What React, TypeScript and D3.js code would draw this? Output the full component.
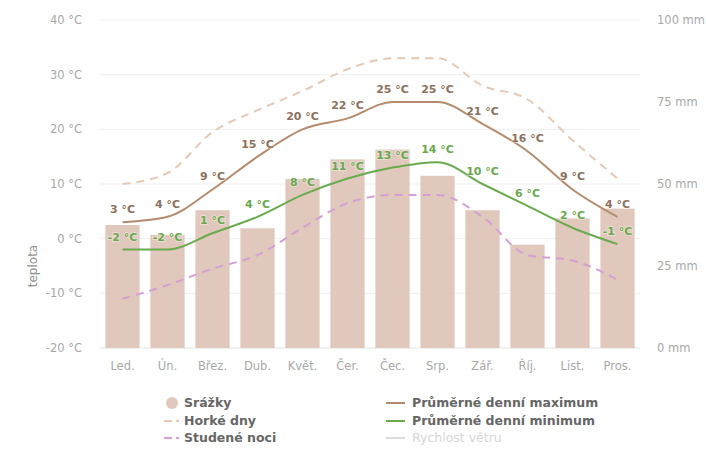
import { scaleBand, scaleLinear, line, curveMonotoneX } from "d3";

const months = ["Led.", "Ún.", "Břez.", "Dub.", "Květ.", "Čer.", "Čec.", "Srp.", "Zář.", "Říj.", "List.", "Pros."];
const precipitation = [37.5, 34.5, 42, 36.5, 51.5, 57.5, 60.5, 52.5, 42, 31.5, 39.5, 42.5];
const avgMax = [3, 4, 9, 15, 20, 22, 25, 25, 21, 16, 9, 4];
const avgMin = [-2, -2, 1, 4, 8, 11, 13, 14, 10, 6, 2, -1];
const hotDays = [10, 12, 19.5, 23.5, 27, 31, 33, 33, 28, 25.5, 18, 11];
const coldNights = [-11, -8.5, -5.5, -3, 2, 6.5, 8, 8, 4, -3, -4, -7.5];
const tempTicks = [-20, -10, 0, 10, 20, 30, 40];
const rainTicks = [0, 25, 50, 75, 100];

const W = 706;
const H = 450;
const left = 100;
const right = 640;
const top = 20;
const bottom = 348;
const font = "'DejaVu Sans', sans-serif";

export default function App() {
  const x = scaleBand<string>().domain(months).range([left, right]).paddingInner(0.24).paddingOuter(0.12);
  const cx = (i: number) => x(months[i])! + x.bandwidth() / 2;
  const yT = scaleLinear().domain([-20, 40]).range([bottom, top]);
  const yR = scaleLinear().domain([0, 100]).range([bottom, top]);

  const mk = (vals: number[]) =>
    line<number>()
      .x((_, i) => cx(i))
      .y((d) => yT(d))
      .curve(curveMonotoneX)(vals) || "";

  const labelStyle = (fill: string) => ({
    fontFamily: font,
    fontSize: 11,
    fontWeight: 700,
    fill,
    stroke: "rgba(255,255,255,0.4)",
    strokeWidth: 2,
    paintOrder: "stroke" as const,
  });

  const axisText = { fontFamily: font, fontSize: 11.5, fill: "#a8a8a8" };

  return (
    <svg width={W} height={H} style={{ position: "absolute", left: 0, top: 0, background: "#fff" }}>
      {/* grid */}
      {tempTicks.map((t) => (
        <line key={t} x1={left} x2={right} y1={yT(t)} y2={yT(t)} stroke={t === -20 ? "#e3e3e3" : "#efefef"} strokeWidth={1} />
      ))}

      {/* left axis */}
      {tempTicks.map((t) => (
        <text key={t} x={82} y={yT(t)} dy="0.35em" textAnchor="end" style={axisText}>
          {`${t} °C`}
        </text>
      ))}
      <text transform={`translate(37,${yT(-5)}) rotate(-90)`} textAnchor="middle" style={{ fontFamily: font, fontSize: 12, fill: "#909090" }}>
        teplota
      </text>

      {/* right axis */}
      {rainTicks.map((t) => (
        <text key={t} x={657} y={yR(t)} dy="0.35em" style={axisText}>
          {`${t} mm`}
        </text>
      ))}

      {/* bars */}
      {precipitation.map((v, i) => (
        <rect key={i} x={x(months[i])} y={yR(v)} width={x.bandwidth()} height={bottom - yR(v)} fill="#e0c8bc" />
      ))}

      {/* x labels */}
      {months.map((m, i) => (
        <text key={m} x={cx(i)} y={366} dy="0.35em" textAnchor="middle" style={axisText}>
          {m}
        </text>
      ))}

      {/* lines */}
      <path d={mk(hotDays)} fill="none" stroke="#e4c9b6" strokeWidth={2} strokeDasharray="8,6" />
      <path d={mk(coldNights)} fill="none" stroke="#d49fd4" strokeWidth={2} strokeDasharray="8,6" />
      <path d={mk(avgMax)} fill="none" stroke="#b48b6c" strokeWidth={2} />
      <path d={mk(avgMin)} fill="none" stroke="#6aaa4e" strokeWidth={2} />

      {/* data labels */}
      {avgMax.map((v, i) => (
        <text key={i} x={cx(i)} y={yT(v) - 9} textAnchor="middle" style={labelStyle("#8c7260")}>
          {`${v} °C`}
        </text>
      ))}
      {avgMin.map((v, i) => (
        <text key={i} x={cx(i)} y={yT(v) - 9} textAnchor="middle" style={labelStyle("#6aa84f")}>
          {`${v} °C`}
        </text>
      ))}

      {/* legend */}
      <g style={{ fontFamily: font, fontSize: 12.5, fontWeight: 700 }}>
        <circle cx={172} cy={403} r={6} fill="#e0c8bc" />
        <text x={184} y={403} dy="0.35em" fill="#666">Srážky</text>
        <line x1={164} x2={172} y1={421} y2={421} stroke="#e4c9b6" strokeWidth={2} />
        <line x1={176} x2={179} y1={421} y2={421} stroke="#e4c9b6" strokeWidth={2} />
        <text x={184} y={421} dy="0.35em" fill="#666">Horké dny</text>
        <line x1={164} x2={172} y1={438} y2={438} stroke="#d49fd4" strokeWidth={2} />
        <line x1={176} x2={179} y1={438} y2={438} stroke="#d49fd4" strokeWidth={2} />
        <text x={184} y={438} dy="0.35em" fill="#666">Studené noci</text>

        <line x1={386} x2={405} y1={403} y2={403} stroke="#b48b6c" strokeWidth={2} />
        <text x={412} y={403} dy="0.35em" fill="#666">Průměrné denní maximum</text>
        <line x1={386} x2={405} y1={421} y2={421} stroke="#6aaa4e" strokeWidth={2} />
        <text x={412} y={421} dy="0.35em" fill="#666">Průměrné denní minimum</text>
        <line x1={386} x2={405} y1={438} y2={438} stroke="#dddddd" strokeWidth={2} />
        <text x={412} y={438} dy="0.35em" fill="#d6d6d6" fontWeight={400}>Rychlost větru</text>
      </g>
    </svg>
  );
}
